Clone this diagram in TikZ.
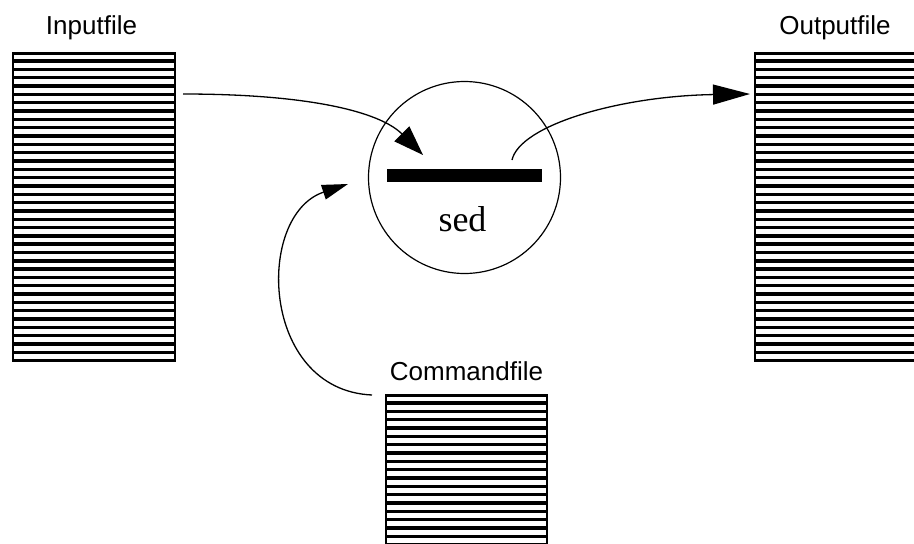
\documentclass[tikz,border=0pt]{standalone}
\usepackage{fontspec}
\setmainfont{Liberation Serif}
\newfontfamily\labelfont{Liberation Sans}
\usetikzlibrary{arrows.meta}
\tikzset{
  filebox/.style={rectangle, draw, line width=1.6pt, inner sep=0pt, anchor=north west,
    path picture={
      \foreach \k in {0,...,45}{
        \draw[line width=3.4pt]
          ([yshift=-\k*8.32pt]path picture bounding box.north west) --
          ([yshift=-\k*8.32pt]path picture bounding box.north east);
      }
    }},
  filelabel/.style={anchor=base, inner sep=0pt, font=\labelfont\fontsize{26}{30}\selectfont},
  conn/.style={line width=1.3pt},
}
\begin{document}
\begin{tikzpicture}[x=1pt,y=-1pt]
\useasboundingbox (0,0) rectangle (914,544);
\clip (0,0) rectangle (914,544);
% files
\node[filebox, minimum width=162pt, minimum height=308pt] (in) at (12,52) {};
\node[filebox, minimum width=162pt, minimum height=308pt] (out) at (754,52) {};
\node[filebox, minimum width=161pt, minimum height=240pt] (cmd) at (385,394) {};
\node[filelabel] (inl) at (91.5,34) {Inputfile};
\node[filelabel] (outl) at (835,34) {Outputfile};
\node[filelabel] (cmdl) at (466.5,380) {Commandfile};
% sed
\node[circle, draw, line width=1.2pt, minimum size=192pt, inner sep=0pt] (sed) at (464.5,177.5) {};
\node[rectangle, fill=black, minimum width=155pt, minimum height=13pt, inner sep=0pt] (bar) at (464.5,175.5) {};
\node[anchor=base, inner sep=0pt, font=\fontsize{36}{40}\selectfont] (sedl) at (462.5,231) {sed};
% connectors
\coordinate (a1s) at (183,94);
\coordinate (a1e) at (423,155);
\coordinate (a2s) at (512,160);
\coordinate (a2e) at (750,94);
\coordinate (a3s) at (372,395);
\coordinate (a3e) at (348,184);
\draw[conn, -{Triangle[length=30pt,width=21pt]}] (a1s) .. controls +(127,0) and +(-43,-43) .. (a1e);
\draw[conn, -{Triangle[length=37pt,width=20pt]}] (a2s) .. controls +(8,-35) and +(-130,2) .. (a2e);
\draw[conn, -{Triangle[length=26pt,width=15pt]}] (a3s) .. controls +(-112,-5) and +(-93,31) .. (a3e);
\end{tikzpicture}
\end{document}
